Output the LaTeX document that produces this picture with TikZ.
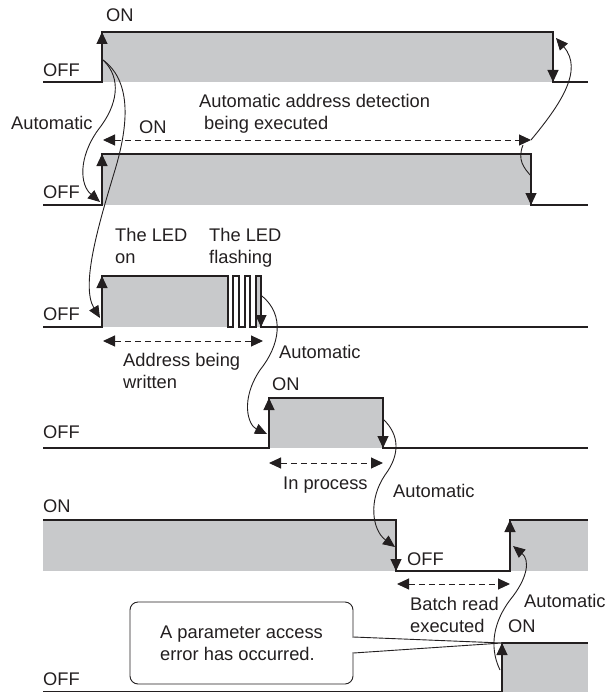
\documentclass[tikz,border=0pt]{standalone}
\usepackage{fontspec}
\setmainfont{Liberation Sans}
\usetikzlibrary{arrows.meta}
\definecolor{wavec}{RGB}{35,31,32}
\definecolor{shade}{RGB}{200,201,203}
\definecolor{txt}{RGB}{35,31,32}
\begin{document}
\begin{tikzpicture}[x=1pt,y=-1pt,
  font=\fontsize{18.3}{22}\selectfont,
  wave/.style={draw=wavec, line width=1.2pt, line join=miter},
  shadebox/.style={fill=shade},
  edgearr/.style={draw=wavec, fill=wavec, line width=1.2pt, -{Triangle[length=12pt,width=11pt]}},
  curvearr/.style={draw=wavec, line width=0.9pt, -{Triangle[length=12pt,width=10.5pt]}},
  plaincurve/.style={draw=wavec, line width=0.9pt},
  spanarr/.style={draw=wavec, line width=1pt, dash pattern=on 6pt off 4pt,
     {Triangle[length=12pt,width=11pt]}-{Triangle[length=12pt,width=11pt]}},
  lbl/.style={anchor=base west, inner sep=0pt, text=txt, align=left},
  callout/.style={draw=wavec, line width=0.9pt, rounded corners=8pt, fill=white,
     minimum width=223pt, minimum height=82pt, align=left, text=txt, inner sep=0pt}]
\useasboundingbox (0,0) rectangle (611,693);

% ---------- Row 1 ----------
\fill[shadebox] (102,32) rectangle (553,82);
\draw[wave] (43,82) -- (102,82) -- (102,32) -- (553,32) -- (553,82) -- (588,82);
\draw[edgearr] (102,60) -- (102,32);
\draw[edgearr] (553,55) -- (553,82);
\coordinate (r1rise) at (103,60);
\coordinate (r1fall) at (556,38);

% ---------- Row 2 ----------
\fill[shadebox] (102,154) rectangle (531,205);
\draw[wave] (43,205) -- (102,205) -- (102,154) -- (531,154) -- (531,205) -- (588,205);
\draw[edgearr] (102,180) -- (102,154);
\draw[edgearr] (531,180) -- (531,205);
\coordinate (r2off) at (100,202);
\coordinate (r2fall) at (531,176);
\coordinate (det-l) at (103,140);
\coordinate (det-r) at (531,140);
\draw[spanarr] (det-l) -- (det-r);

% ---------- Row 3 ----------
\fill[shadebox] (102,276) rectangle (228,327);
\fill[shadebox] (256,276) rectangle (261,327);
\draw[wave] (43,327) -- (102,327) -- (102,276) -- (228,276) -- (228,327) -- (233,327)
  -- (233,276) -- (239,276) -- (239,327) -- (245,327) -- (245,276) -- (250,276)
  -- (250,327) -- (256,327) -- (256,276) -- (261,276) -- (261,327) -- (588,327);
\draw[edgearr] (102,300) -- (102,276);
\draw[edgearr] (261,305) -- (261,327);
\coordinate (r3off) at (100,318);
\coordinate (r3fall) at (262,296);
\coordinate (adr-l) at (103,341);
\coordinate (adr-r) at (263,341);
\draw[spanarr] (adr-l) -- (adr-r);

% ---------- Row 4 ----------
\fill[shadebox] (269,398) rectangle (383,448);
\draw[wave] (43,448) -- (269,448) -- (269,398) -- (383,398) -- (383,448) -- (588,448);
\draw[edgearr] (269,422) -- (269,398);
\draw[edgearr] (383,425) -- (383,448);
\coordinate (r4rise) at (267,434);
\coordinate (r4fall) at (383,419);
\coordinate (prc-l) at (269,463);
\coordinate (prc-r) at (383,463);
\draw[spanarr] (prc-l) -- (prc-r);

% ---------- Row 5 ----------
\fill[shadebox] (43,520) rectangle (396,571);
\fill[shadebox] (510,520) rectangle (588,571);
\draw[wave] (43,520) -- (396,520) -- (396,571) -- (510,571) -- (510,520) -- (588,520);
\draw[edgearr] (396,548) -- (396,571);
\draw[edgearr] (510,545) -- (510,520);
\coordinate (r5fall) at (395,547);
\coordinate (r5rise) at (513,546);
\coordinate (bat-l) at (397,584);
\coordinate (bat-r) at (510,584);
\draw[spanarr] (bat-l) -- (bat-r);

% ---------- Row 6 ----------
\fill[shadebox] (502,643) rectangle (588,692);
\draw[wave] (43,691.5) -- (502,691.5) -- (502,643) -- (588,643);
\draw[edgearr] (502,668) -- (502,643);
\coordinate (r6rise) at (502,643);
\coordinate (r6start) at (500,670);

% ---------- Curved connectors ----------
\draw[curvearr] (r1rise) .. controls (122,78) and (118,105) .. (98,130)
                          .. controls (78,158) and (80,185) .. (r2off);
\draw[curvearr] (r1rise) .. controls (130,80) and (130,120) .. (115,170)
                          .. controls (100,220) and (80,285) .. (r3off);
\draw[curvearr] (det-r) .. controls (560,105) and (584,70) .. (r1fall);
\draw[plaincurve] ([xshift=-8pt,yshift=-5pt]det-r) .. controls (517,160) and (524,168) .. (r2fall);
\draw[curvearr] (r3fall) .. controls (285,315) and (280,345) .. (260,370)
                          .. controls (240,400) and (248,425) .. (r4rise);
\draw[curvearr] (r4fall) .. controls (400,435) and (400,455) .. (385,475)
                          .. controls (368,500) and (372,530) .. (r5fall);
\draw[curvearr] (r6start) .. controls (488,645) and (495,620) .. (510,600)
                          .. controls (528,578) and (530,560) .. (r5rise);

% ---------- Callout ----------
\node[callout] (err) at (241.5,643) {A parameter access\\error has occurred.};
\fill[white] ([xshift=-1.5pt,yshift=5.2pt]err.east) -- (r6rise) -- ([xshift=-1.5pt,yshift=-9.2pt]err.east) -- cycle;
\draw[wavec, line width=0.9pt] ([yshift=6pt]err.east) -- (r6rise) -- ([yshift=-10pt]err.east);

% ---------- Labels (multi-line nodes are placed by their last baseline) ----------
\node[lbl] (on1) at (106,22) {ON};
\node[lbl] (off1) at (43,77) {OFF};
\node[lbl] (auto1) at (11,129) {Automatic};
\node[lbl] (on2) at (139,133) {ON};
\node[lbl] (det) at (199,129) {Automatic address detection\\\hspace*{5pt}being executed};
\node[lbl] (off2) at (43,198) {OFF};
\node[lbl] (led1) at (115,263) {The LED\\on};
\node[lbl] (led2) at (209,263) {The LED\\flashing};
\node[lbl] (off3) at (43,320) {OFF};
\node[lbl] (addr) at (123,388) {Address being\\written};
\node[lbl] (auto2) at (279,358) {Automatic};
\node[lbl] (on4) at (272,390) {ON};
\node[lbl] (off4) at (43,438) {OFF};
\node[lbl] (inproc) at (283,489) {In process};
\node[lbl] (auto3) at (393,497) {Automatic};
\node[lbl] (on5) at (43,512) {ON};
\node[lbl] (off5) at (407,565) {OFF};
\node[lbl] (batch) at (410,632) {Batch read\\executed};
\node[lbl] (auto4) at (524,607) {Automatic};
\node[lbl] (on6) at (508,632) {ON};
\node[lbl] (off6) at (43,685) {OFF};
\end{tikzpicture}
\end{document}
